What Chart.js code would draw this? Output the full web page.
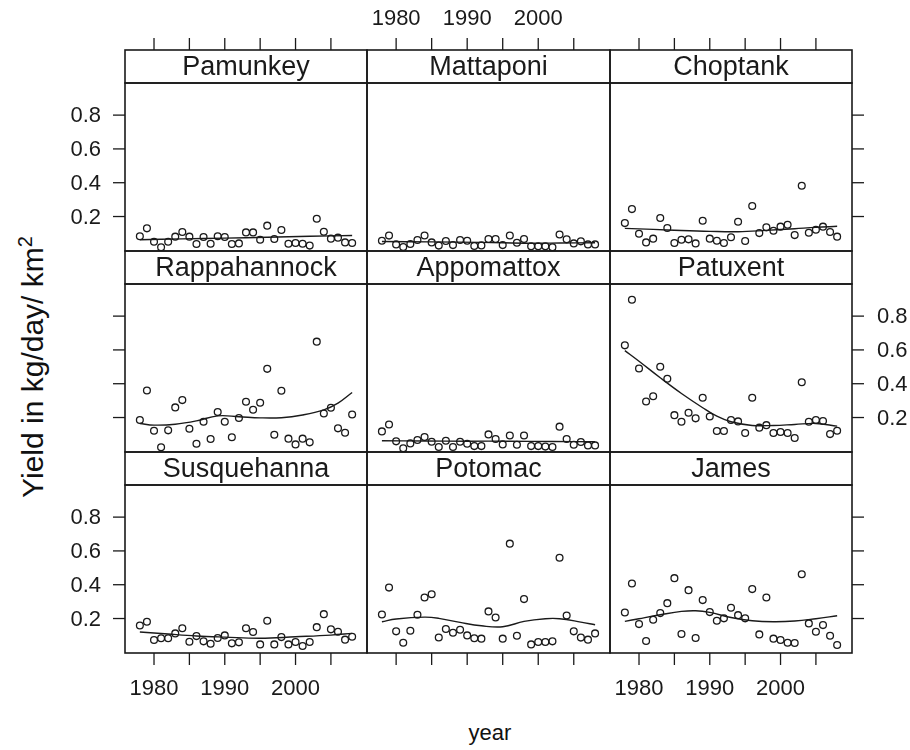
<!DOCTYPE html>
<html>
<head>
<meta charset="utf-8">
<script src="https://cdn.jsdelivr.net/npm/chart.js@4.4.1/dist/chart.umd.min.js"></script>
<style>
  body { margin: 0; background: #fff; }
  #wrap { position: relative; width: 910px; height: 750px; overflow: hidden; font-family: "Liberation Sans", Arial, sans-serif; color: #111; }
  #wrap canvas { position: absolute; left: 0; top: 0; }
  #ylab { position: absolute; left: 31px; top: 367px; transform: translate(-50%, -50%) rotate(-90deg); font-size: 30px; white-space: nowrap; line-height: 1; }
  #ylab sup { font-size: 20px; }
  #xlab { position: absolute; left: 490px; top: 733px; transform: translate(-50%, -50%); font-size: 22px; }
</style>
</head>
<body>
<div id="wrap">
  <div id="ylab">Yield in kg/day/ km<sup>2</sup></div>
  <div id="xlab">year</div>
</div>
<script>
// years of the observations
const years = [1978, 1979, 1980, 1981, 1982, 1983, 1984, 1985, 1986, 1987, 1988, 1989, 1990, 1991, 1992, 1993,
  1994, 1995, 1996, 1997, 1998, 1999, 2000, 2001, 2002, 2003, 2004, 2005, 2006, 2007, 2008];

const rivers = ['Pamunkey', 'Mattaponi', 'Choptank', 'Rappahannock', 'Appomattox', 'Patuxent', 'Susquehanna', 'Potomac', 'James'];

// yield values per river
const pamunkey = [0.083, 0.130, 0.051, 0.018, 0.051, 0.081, 0.108, 0.081, 0.037, 0.079, 0.039, 0.083, 0.079, 0.037, 0.041, 0.106,
  0.106, 0.063, 0.146, 0.067, 0.120, 0.039, 0.043, 0.039, 0.028, 0.187, 0.110, 0.069, 0.075, 0.047, 0.043];
const mattaponi = [0.057, 0.087, 0.035, 0.020, 0.037, 0.061, 0.088, 0.047, 0.028, 0.055, 0.031, 0.061, 0.057, 0.026, 0.029, 0.067,
  0.067, 0.031, 0.088, 0.045, 0.067, 0.024, 0.024, 0.024, 0.018, 0.094, 0.065, 0.041, 0.053, 0.035, 0.035];
const choptank = [0.161, 0.244, 0.098, 0.047, 0.069, 0.191, 0.132, 0.043, 0.063, 0.065, 0.041, 0.175, 0.069, 0.057, 0.043, 0.077,
  0.169, 0.055, 0.262, 0.102, 0.136, 0.116, 0.140, 0.151, 0.090, 0.382, 0.104, 0.122, 0.140, 0.108, 0.081];
const rappahannock = [0.185, 0.360, 0.122, 0.024, 0.124, 0.260, 0.303, 0.134, 0.045, 0.175, 0.073, 0.232, 0.175, 0.083, 0.197, 0.293,
  0.246, 0.287, 0.488, 0.098, 0.358, 0.075, 0.041, 0.075, 0.053, 0.649, 0.224, 0.258, 0.136, 0.110, 0.218];
const appomattox = [0.118, 0.159, 0.059, 0.018, 0.047, 0.067, 0.085, 0.057, 0.026, 0.063, 0.026, 0.057, 0.045, 0.031, 0.031, 0.100,
  0.073, 0.041, 0.094, 0.039, 0.094, 0.031, 0.031, 0.028, 0.026, 0.146, 0.073, 0.039, 0.055, 0.035, 0.035];
const patuxent = [0.627, 0.897, 0.490, 0.295, 0.326, 0.500, 0.429, 0.214, 0.175, 0.228, 0.195, 0.317, 0.206, 0.120, 0.120, 0.185,
  0.177, 0.108, 0.317, 0.140, 0.155, 0.108, 0.114, 0.108, 0.079, 0.409, 0.175, 0.185, 0.179, 0.102, 0.122];
const susquehanna = [0.159, 0.181, 0.073, 0.083, 0.083, 0.112, 0.142, 0.063, 0.096, 0.065, 0.051, 0.085, 0.100, 0.053, 0.059, 0.142,
  0.120, 0.047, 0.187, 0.047, 0.090, 0.047, 0.061, 0.037, 0.061, 0.149, 0.226, 0.136, 0.122, 0.075, 0.092];
const potomac = [0.224, 0.383, 0.124, 0.057, 0.128, 0.222, 0.324, 0.344, 0.088, 0.138, 0.116, 0.134, 0.100, 0.083, 0.081, 0.242,
  0.206, 0.081, 0.643, 0.098, 0.315, 0.047, 0.061, 0.061, 0.065, 0.560, 0.218, 0.124, 0.087, 0.075, 0.112];
const james = [0.236, 0.407, 0.167, 0.067, 0.193, 0.232, 0.291, 0.439, 0.108, 0.368, 0.085, 0.309, 0.238, 0.187, 0.201, 0.264,
  0.220, 0.201, 0.374, 0.106, 0.324, 0.081, 0.073, 0.057, 0.055, 0.462, 0.171, 0.122, 0.161, 0.098, 0.043];

// smooth (loess) curves: [year, value]
const pamunkeySmooth = [[1978, 0.063], [1984, 0.068], [1990, 0.072], [1996, 0.077], [2002, 0.083], [2008, 0.088]];
const mattaponiSmooth = [[1978, 0.052], [1985, 0.050], [1992, 0.047], [1999, 0.042], [2003, 0.043], [2008, 0.045]];
const choptankSmooth = [[1978, 0.130], [1982, 0.124], [1986, 0.117], [1990, 0.112], [1994, 0.110], [1998, 0.118], [2002, 0.128], [2005, 0.136], [2008, 0.142]];
const rappahannockSmooth = [[1978, 0.165], [1980, 0.155], [1983, 0.160], [1986, 0.180], [1989, 0.210], [1992, 0.205], [1995, 0.198],
  [1998, 0.199], [2001, 0.215], [2004, 0.245], [2006, 0.285], [2008, 0.348]];
const appomattoxSmooth = [[1978, 0.063], [1984, 0.061], [1990, 0.060], [1996, 0.060], [2002, 0.058], [2008, 0.057]];
const patuxentSmooth = [[1978, 0.596], [1980, 0.533], [1983, 0.435], [1986, 0.342], [1989, 0.258], [1991, 0.208], [1993, 0.175],
  [1996, 0.153], [1999, 0.153], [2002, 0.159], [2005, 0.165], [2008, 0.149]];
const susquehannaSmooth = [[1978, 0.120], [1982, 0.108], [1986, 0.097], [1990, 0.090], [1995, 0.083], [2000, 0.092], [2005, 0.102], [2008, 0.112]];
const potomacSmooth = [[1978, 0.181], [1980, 0.197], [1984, 0.208], [1986, 0.201], [1989, 0.177], [1992, 0.157], [1995, 0.151],
  [1998, 0.183], [2001, 0.199], [2003, 0.199], [2006, 0.179], [2008, 0.163]];
const jamesSmooth = [[1978, 0.183], [1980, 0.199], [1983, 0.222], [1986, 0.242], [1988, 0.246], [1990, 0.236], [1993, 0.206],
  [1996, 0.187], [1999, 0.181], [2002, 0.185], [2005, 0.199], [2008, 0.216]];

const values = [pamunkey, mattaponi, choptank, rappahannock, appomattox, patuxent, susquehanna, potomac, james];
const smooths = [pamunkeySmooth, mattaponiSmooth, choptankSmooth, rappahannockSmooth, appomattoxSmooth, patuxentSmooth,
  susquehannaSmooth, potomacSmooth, jamesSmooth];

// tick marks and labels
const xTicks = [1980, 1985, 1990, 1995, 2000, 2005];
const xLabels = [1980, 1990, 2000];
const yTicks = [0.2, 0.4, 0.6, 0.8];
const yLabels = ['0.2', '0.4', '0.6', '0.8'];

// layout of the lattice
const W = 910, H = 750;
const colEdges = [125, 367, 610, 852];
const rowTops = [83, 284, 485];
const panelH = 168;
const stripH = 33;
const tickLen = 12;
const ink = '#1a1a1a';
const tickFont = '22px "Liberation Sans", Arial, sans-serif';
const stripFont = '27px "Liberation Sans", Arial, sans-serif';

const latticePlugin = {
  id: 'lattice',
  afterDraw(chart, args, o) {
    const ctx = chart.ctx, a = chart.chartArea;
    const xs = chart.scales.x, ys = chart.scales.y;
    ctx.save();
    ctx.strokeStyle = ink;
    ctx.fillStyle = ink;
    ctx.lineWidth = 1.6;
    // panel + strip
    ctx.strokeRect(a.left, a.top, a.right - a.left, a.bottom - a.top);
    ctx.strokeRect(a.left, a.top - stripH, a.right - a.left, stripH);
    ctx.font = stripFont;
    ctx.textAlign = 'center';
    ctx.textBaseline = 'middle';
    ctx.fillText(o.name, (a.left + a.right) / 2, a.top - stripH / 2 + 1);

    ctx.font = tickFont;
    ctx.lineWidth = 1.3;
    const seg = (x1, y1, x2, y2) => { ctx.beginPath(); ctx.moveTo(x1, y1); ctx.lineTo(x2, y2); ctx.stroke(); };
    if (o.row === 0) {
      const y0 = a.top - stripH;
      xTicks.forEach(v => { const px = xs.getPixelForValue(v); seg(px, y0, px, y0 - tickLen); });
      if (o.col === 1) xLabels.forEach(v => ctx.fillText(String(v), xs.getPixelForValue(v), y0 - 31));
    }
    if (o.row === 2) {
      xTicks.forEach(v => { const px = xs.getPixelForValue(v); seg(px, a.bottom, px, a.bottom + tickLen); });
      if (o.col !== 1) xLabels.forEach(v => ctx.fillText(String(v), xs.getPixelForValue(v), a.bottom + 36));
    }
    if (o.col === 0) {
      ctx.textAlign = 'right';
      yTicks.forEach((v, i) => {
        const py = ys.getPixelForValue(v);
        seg(a.left, py, a.left - tickLen, py);
        if (o.row !== 1) ctx.fillText(yLabels[i], a.left - 24, py + 1);
      });
    }
    if (o.col === 2) {
      ctx.textAlign = 'left';
      yTicks.forEach((v, i) => {
        const py = ys.getPixelForValue(v);
        seg(a.right, py, a.right + tickLen, py);
        if (o.row === 1) ctx.fillText(yLabels[i], a.right + 25, py + 1);
      });
    }
    ctx.restore();
  }
};

const wrap = document.getElementById('wrap');
rivers.forEach((name, k) => {
  const row = Math.floor(k / 3), col = k % 3;
  const canvas = document.createElement('canvas');
  canvas.width = W;
  canvas.height = H;
  wrap.appendChild(canvas);
  const top = rowTops[row];
  new Chart(canvas, {
    type: 'scatter',
    data: {
      datasets: [
        {
          data: years.map((yr, i) => ({ x: yr, y: values[k][i] })),
          pointStyle: 'circle',
          pointRadius: 3.4,
          pointBorderWidth: 1.3,
          pointBorderColor: ink,
          pointBackgroundColor: 'rgba(0,0,0,0)',
          showLine: false
        },
        {
          data: smooths[k].map(p => ({ x: p[0], y: p[1] })),
          showLine: true,
          borderColor: ink,
          borderWidth: 1.4,
          tension: 0.4,
          pointRadius: 0,
          fill: false
        }
      ]
    },
    options: {
      responsive: false,
      animation: false,
      events: [],
      layout: {
        padding: { left: colEdges[col], right: W - colEdges[col + 1], top: top, bottom: H - (top + panelH) }
      },
      scales: {
        x: { type: 'linear', display: false, min: 1975.9, max: 2010.1 },
        y: { type: 'linear', display: false, min: -0.004, max: 0.99 }
      },
      plugins: {
        legend: { display: false },
        tooltip: { enabled: false },
        lattice: { name: name, row: row, col: col }
      }
    },
    plugins: [latticePlugin]
  });
});
</script>
</body>
</html>
